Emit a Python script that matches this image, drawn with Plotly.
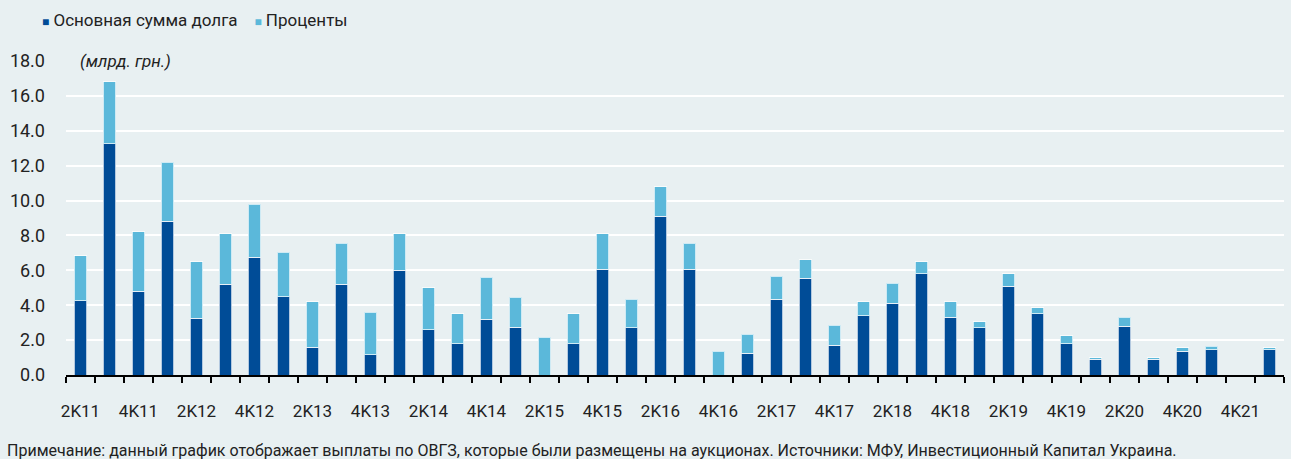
import plotly.graph_objects as go

quarters = ["2K11", "3K11", "4K11", "1K12", "2K12", "3K12", "4K12", "1K13", "2K13", "3K13",
            "4K13", "1K14", "2K14", "3K14", "4K14", "1K15", "2K15", "3K15", "4K15", "1K16",
            "2K16", "3K16", "4K16", "1K17", "2K17", "3K17", "4K17", "1K18", "2K18", "3K18",
            "4K18", "1K19", "2K19", "3K19", "4K19", "1K20", "2K20", "3K20", "4K20", "2K21",
            "4K21", "1K22"]

# основная сумма долга, млрд грн
principal = [4.25, 13.25, 4.8, 8.8, 3.25, 5.2, 6.75, 4.5, 1.6, 5.2,
             1.15, 6.0, 2.6, 1.8, 3.2, 2.75, 0.0, 1.8, 6.05, 2.7,
             9.1, 6.05, 0.0, 1.25, 4.35, 5.55, 1.7, 3.4, 4.1, 5.8,
             3.3, 2.7, 5.1, 3.5, 1.8, 0.9, 2.8, 0.9, 1.35, 1.45,
             0.0, 1.45]

# проценты, млрд грн
interest = [2.6, 3.55, 3.4, 3.4, 3.25, 2.9, 3.05, 2.55, 2.6, 2.35,
            2.45, 2.1, 2.4, 1.7, 2.4, 1.7, 2.15, 1.7, 2.05, 1.65,
            1.7, 1.5, 1.35, 1.1, 1.3, 1.05, 1.15, 0.8, 1.15, 0.7,
            0.9, 0.35, 0.7, 0.35, 0.45, 0.1, 0.5, 0.1, 0.2, 0.2,
            0.0, 0.1]

tick_text = [q if i % 2 == 0 else "" for i, q in enumerate(quarters)]

DARK = "#004C97"
LIGHT = "#5BB8DA"
BG = "#E8F0F2"
FONT = "Roboto, sans-serif"

fig = go.Figure()
fig.add_trace(go.Bar(x=quarters, y=principal, name="Основная сумма долга",
                     marker=dict(color=DARK, line=dict(color="rgba(255,255,255,0.7)", width=1))))
fig.add_trace(go.Bar(x=quarters, y=interest, name="Проценты",
                     marker=dict(color=LIGHT, line=dict(color="rgba(255,255,255,0.7)", width=1))))

fig.update_layout(
    barmode="stack",
    bargap=0.57,
    width=1291,
    height=459,
    margin=dict(l=66, r=7, t=61, b=84),
    paper_bgcolor=BG,
    plot_bgcolor=BG,
    showlegend=False,
    font=dict(family=FONT, size=17, color="#222222"),
)

fig.update_xaxes(
    type="category",
    tickmode="array",
    tickvals=quarters,
    ticktext=tick_text,
    tickangle=0,
    tickson="boundaries",
    ticks="outside",
    ticklen=6,
    tickwidth=2,
    tickcolor="black",
    showline=True,
    linecolor="black",
    linewidth=2,
    showgrid=False,
    automargin=False,
    ticklabelstandoff=20,
    tickfont=dict(size=17),
)

fig.update_yaxes(
    range=[0, 18],
    tickvals=[0, 2, 4, 6, 8, 10, 12, 14, 16, 18],
    tickformat=".1f",
    showgrid=True,
    gridcolor="white",
    gridwidth=2,
    zeroline=False,
    showline=False,
    ticks="",
    automargin=False,
    ticklabelstandoff=20,
    tickfont=dict(size=18),
)

# легенда
fig.add_annotation(
    xref="paper", yref="paper", x=-0.021, y=1.13, xanchor="left", yanchor="middle",
    showarrow=False,
    text=(f'<span style="color:{DARK};font-size:12px">■</span> Основная сумма долга'
          f'    <span style="color:{LIGHT};font-size:12px">■</span> Проценты'),
    font=dict(size=17, color="#222222"),
)

fig.add_annotation(
    xref="paper", yref="y", x=0.01, y=18, xanchor="left", yanchor="middle",
    showarrow=False, text="<i>(млрд. грн.)</i>", bgcolor=BG,
    font=dict(size=17, color="#222222"),
)

fig.add_annotation(
    xref="paper", yref="paper", x=-0.05, y=-0.24, xanchor="left", yanchor="middle",
    showarrow=False,
    text="Примечание: данный график отображает выплаты по ОВГЗ, которые были размещены на аукционах. "
         "Источники: МФУ, Инвестиционный Капитал Украина.",
    font=dict(size=16, color="#222222"),
)

fig.write_html(
    "out.html",
    config={"displayModeBar": False},
    post_script=f"document.body.style.margin='0';document.body.style.background='{BG}';",
)
